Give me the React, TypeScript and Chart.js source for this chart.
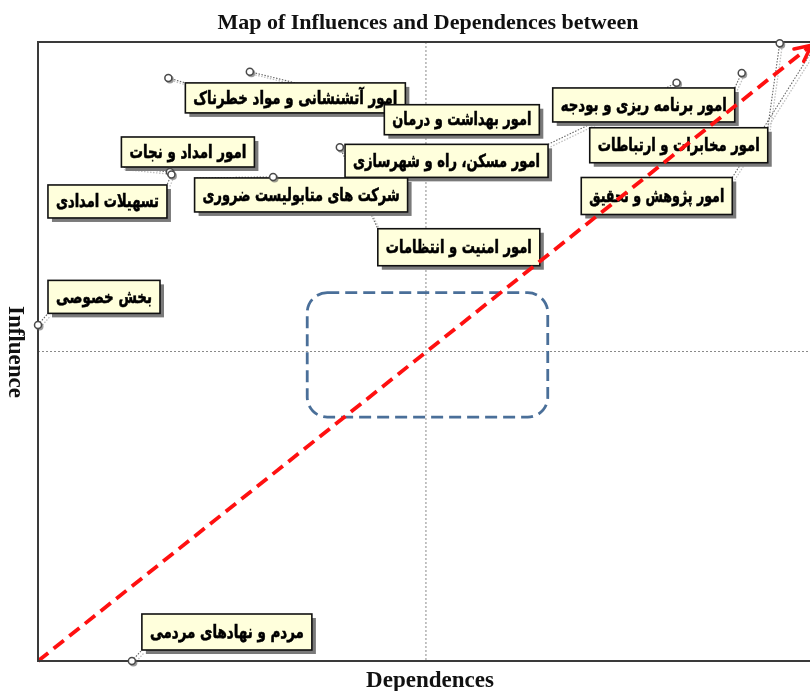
import React, { useEffect, useRef } from "react";
import { Chart, registerables } from "chart.js";

Chart.register(...registerables);

// ---- data ----
const categories = [
  "امور آتشنشانی و مواد خطرناک",
  "امور بهداشت و درمان",
  "امور مسکن، راه و شهرسازی",
  "امور امداد و نجات",
  "تسهیلات امدادی",
  "شرکت های متابولیست ضروری",
  "امور امنیت و انتظامات",
  "بخش خصوصی",
  "امور برنامه ریزی و بودجه",
  "امور مخابرات و ارتباطات",
  "امور پژوهش و تحقیق",
  "مردم و نهادهای مردمی",
];
const dependenceValues = [16.8, 27.3, 82.3, 17.0, 17.2, 30.3, 38.9, 0, 90.7, 95.6, 100.5, 12.1];
const influenceValues = [94.2, 95.2, 93.4, 79.0, 78.6, 78.2, 83.0, 54.3, 95.0, 99.8, 100, 0];

const chartTitle = "Map of Influences and Dependences between";
const xTitle = "Dependences";
const yTitle = "Influence";

// diagonal reference line (start / end)
const diagonalX = [0, 99.7];
const diagonalY = [0, 99.5];
// highlighted zone (x range, y range)
const zoneX = [34.7, 65.7];
const zoneY = [39.4, 59.5];
const midValue = 50;

// ---- label box layout (pixel offsets from point, size) ----
const labelLayout = [
  { dx: 127, dy: 20, w: 220, h: 30 },
  { dx: 212, dy: 48, w: 155, h: 30 },
  { dx: -230, dy: 78, w: 203, h: 33 },
  { dx: 18, dy: -20, w: 133, h: 30 },
  { dx: -64, dy: 27, w: 119, h: 33 },
  { dx: 28, dy: 18, w: 213, h: 34 },
  { dx: 119, dy: 100, w: 162, h: 37 },
  { dx: 66, dy: -28, w: 112, h: 33 },
  { dx: -98, dy: 32, w: 182, h: 34 },
  { dx: -101, dy: 102, w: 178, h: 35 },
  { dx: -161, dy: 154, w: 151, h: 37 },
  { dx: 95, dy: -29, w: 170, h: 36 },
];

const mapPlugin = {
  id: "mapPlugin",
  beforeDatasetsDraw(chart: any) {
    const { ctx, chartArea: ca, scales } = chart;
    const xs = scales.x;
    const ys = scales.y;
    ctx.save();
    // center dotted lines
    ctx.strokeStyle = "#8a8a8a";
    ctx.lineWidth = 1;
    ctx.setLineDash([2, 2]);
    const mx = xs.getPixelForValue(midValue);
    const my = ys.getPixelForValue(midValue);
    ctx.beginPath();
    ctx.moveTo(mx, ca.top);
    ctx.lineTo(mx, ca.bottom);
    ctx.moveTo(ca.left, my);
    ctx.lineTo(ca.right, my);
    ctx.stroke();

    // zone rounded rect
    const zx1 = xs.getPixelForValue(zoneX[0]);
    const zx2 = xs.getPixelForValue(zoneX[1]);
    const zy1 = ys.getPixelForValue(zoneY[1]);
    const zy2 = ys.getPixelForValue(zoneY[0]);
    ctx.strokeStyle = "#4a6f99";
    ctx.lineWidth = 2.8;
    ctx.setLineDash([12, 6]);
    ctx.beginPath();
    (ctx as any).roundRect(zx1, zy1, zx2 - zx1, zy2 - zy1, 20);
    ctx.stroke();

    // leader lines and boxes
    const boxes = categories.map((_, i) => {
      const px = xs.getPixelForValue(dependenceValues[i]);
      const py = ys.getPixelForValue(influenceValues[i]);
      const L = labelLayout[i];
      const cx = px + L.dx;
      const cy = py + L.dy;
      return { px, py, x: cx - L.w / 2, y: cy - L.h / 2, w: L.w, h: L.h, cx, cy };
    });
    ctx.setLineDash([1.5, 1.5]);
    boxes.forEach((b) => {
      const corners = [
        [b.x, b.y],
        [b.x + b.w, b.y],
        [b.x, b.y + b.h],
        [b.x + b.w, b.y + b.h],
      ];
      let best = corners[0];
      let bd = Infinity;
      corners.forEach((c) => {
        const d = (c[0] - b.px) ** 2 + (c[1] - b.py) ** 2;
        if (d < bd) {
          bd = d;
          best = c;
        }
      });
      ctx.strokeStyle = "#c0c0c0";
      ctx.lineWidth = 1.3;
      ctx.beginPath();
      ctx.moveTo(b.px + 2.5, b.py + 2.5);
      ctx.lineTo(best[0] + 2.5, best[1] + 2.5);
      ctx.stroke();
      ctx.strokeStyle = "#666";
      ctx.lineWidth = 1.1;
      ctx.beginPath();
      ctx.moveTo(b.px, b.py);
      ctx.lineTo(best[0], best[1]);
      ctx.stroke();
    });
    ctx.setLineDash([]);
    boxes.forEach((b, i) => {
      ctx.fillStyle = "#7a7a7a";
      ctx.fillRect(b.x + 4, b.y + 4, b.w, b.h);
      ctx.fillStyle = "#ffffdc";
      ctx.fillRect(b.x, b.y, b.w, b.h);
      ctx.strokeStyle = "#111";
      ctx.lineWidth = 1.6;
      ctx.strokeRect(b.x, b.y, b.w, b.h);
      const fs = 18;
      ctx.font = `bold ${fs}px "DejaVu Sans"`;
      const tw = ctx.measureText(categories[i]).width;
      const sx = Math.min(1, (b.w - 16) / tw);
      ctx.fillStyle = "#000";
      ctx.textAlign = "center";
      ctx.textBaseline = "middle";
      ctx.direction = "rtl";
      ctx.save();
      ctx.translate(b.cx, b.cy + 1);
      ctx.scale(sx, 1);
      ctx.lineWidth = 0.6;
      ctx.strokeStyle = "#000";
      ctx.fillText(categories[i], 0, 0);
      ctx.strokeText(categories[i], 0, 0);
      ctx.restore();
    });
    ctx.restore();
  },
  afterDatasetsDraw(chart: any) {
    const { ctx, chartArea: ca, scales } = chart;
    const xs = scales.x;
    const ys = scales.y;
    ctx.save();
    // arrowhead
    const x0 = xs.getPixelForValue(diagonalX[0]);
    const y0 = ys.getPixelForValue(diagonalY[0]);
    const x1 = xs.getPixelForValue(diagonalX[1]);
    const y1 = ys.getPixelForValue(diagonalY[1]);
    const ang = Math.atan2(y1 - y0, x1 - x0);
    const len = 18;
    ctx.strokeStyle = "#ff1010";
    ctx.lineWidth = 3.5;
    ctx.lineCap = "round";
    ctx.beginPath();
    ctx.moveTo(x1 - len * Math.cos(ang - 0.45), y1 - len * Math.sin(ang - 0.45));
    ctx.lineTo(x1, y1);
    ctx.lineTo(x1 - len * Math.cos(ang + 0.45), y1 - len * Math.sin(ang + 0.45));
    ctx.stroke();

    // plot border
    ctx.lineCap = "butt";
    ctx.strokeStyle = "#3a3a3a";
    ctx.lineWidth = 2;
    ctx.beginPath();
    ctx.moveTo(ca.right, ca.top);
    ctx.lineTo(ca.left, ca.top);
    ctx.lineTo(ca.left, ca.bottom);
    ctx.lineTo(ca.right, ca.bottom);
    ctx.stroke();

    // points on top of border
    const meta = chart.getDatasetMeta(1);
    meta.data.forEach((el: any) => {
      ctx.fillStyle = "rgba(90,90,90,0.6)";
      ctx.beginPath();
      ctx.arc(el.x + 1.5, el.y + 1.5, 4, 0, Math.PI * 2);
      ctx.fill();
      ctx.fillStyle = "#fff";
      ctx.strokeStyle = "#4a4a4a";
      ctx.lineWidth = 1.5;
      ctx.beginPath();
      ctx.arc(el.x, el.y, 3.5, 0, Math.PI * 2);
      ctx.fill();
      ctx.stroke();
    });

    // titles
    ctx.fillStyle = "#111";
    ctx.textAlign = "center";
    ctx.textBaseline = "alphabetic";
    ctx.font = 'bold 22px "Liberation Serif"';
    ctx.fillText(chartTitle, 428, 29);
    ctx.font = 'bold 23px "Liberation Serif"';
    ctx.fillText(xTitle, 430, 687);
    ctx.save();
    ctx.translate(9, 352);
    ctx.rotate(Math.PI / 2);
    ctx.font = 'bold 23px "Liberation Serif"';
    ctx.fillText(yTitle, 0, 0);
    ctx.restore();
    ctx.restore();
  },
};

export default function App() {
  const ref = useRef<HTMLCanvasElement | null>(null);
  useEffect(() => {
    if (!ref.current) return;
    const chart = new Chart(ref.current, {
      type: "scatter",
      data: {
        datasets: [
          {
            type: "line",
            data: diagonalX.map((x, i) => ({ x, y: diagonalY[i] })),
            borderColor: "#ff1010",
            borderWidth: 3.8,
            borderDash: [13, 7],
            pointRadius: 0,
            fill: false,
            clip: false as any,
          } as any,
          {
            data: dependenceValues.map((x, i) => ({ x, y: influenceValues[i] })),
            pointRadius: 0,
            pointHoverRadius: 0,
            backgroundColor: "#fff",
            borderColor: "#4a4a4a",
            clip: false as any,
          },
        ],
      },
      options: {
        animation: false,
        responsive: false,
        maintainAspectRatio: false,
        layout: { padding: { left: 38, top: 42, right: 0, bottom: 30 } },
        plugins: { legend: { display: false }, tooltip: { enabled: false }, title: { display: false } },
        scales: {
          x: { type: "linear", min: 0, max: 99.5, display: false },
          y: { type: "linear", min: 0, max: 100, display: false },
        },
      },
      plugins: [mapPlugin],
    });
    return () => chart.destroy();
  }, []);
  return (
    <div style={{ position: "fixed", left: 0, top: 0, width: 810, height: 691, background: "#fff", overflow: "hidden" }}>
      <canvas ref={ref} width={810} height={691} style={{ display: "block", width: 810, height: 691 }} />
    </div>
  );
}
